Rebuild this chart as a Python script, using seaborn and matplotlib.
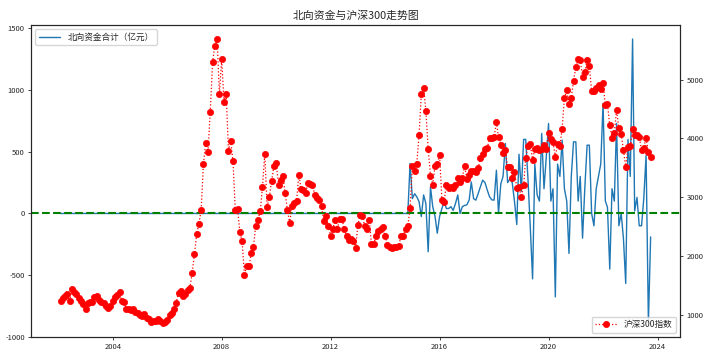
"""
北向资金与沪深300走势图
"""

#Packages:
import seaborn as sns
import matplotlib.pyplot as plt
import matplotlib.dates as mdates
import pandas as pd

#-----------------------------------
#Data (monthly, month end, 2002-01 .. 2023-09):
dates = pd.date_range("2002-01-31", "2023-09-30", freq="ME")

hs300 = [
    1237, 1290, 1330, 1350, 1237, 1435, 1390, 1360, 1295, 1240, 1190, 1108,  # 2002
    1210, 1215, 1230, 1300, 1322, 1254, 1230, 1210, 1160, 1125, 1153, 1237,  # 2003
    1300, 1340, 1390, 1237, 1220, 1108, 1100, 1085, 1108, 1060, 1040, 1000,  # 2004
    980, 1012, 956, 927, 890, 900, 895, 927, 900, 870, 880, 923,  # 2005
    1000, 1040, 1108, 1210, 1380, 1407, 1322, 1350, 1420, 1464, 1718, 2040,  # 2006
    2385, 2550, 2787, 3566, 3922, 3770, 4458, 5295, 5576, 5690, 4752, 5346,  # 2007
    4627, 4760, 3791, 3960, 3610, 2791, 2803, 2407, 2254, 1678, 1842, 1830,  # 2008
    2046, 2153, 2508, 2622, 2763, 3176, 3741, 2837, 3007, 3283, 3525, 3583,  # 2009
    3215, 3300, 3356, 3074, 2780, 2566, 2859, 2904, 2932, 3385, 3142, 3119,  # 2010
    3075, 3244, 3232, 3215, 3046, 2990, 2950, 2848, 2593, 2690, 2508, 2351,  # 2011
    2464, 2622, 2464, 2634, 2634, 2464, 2339, 2283, 2293, 2254, 2142, 2537,  # 2012
    2707, 2690, 2508, 2464, 2622, 2215, 2215, 2339, 2424, 2464, 2500, 2339,  # 2013
    2198, 2158, 2142, 2158, 2158, 2170, 2339, 2350, 2464, 2508, 2820, 3525,  # 2014
    3440, 3571, 4063, 4758, 4855, 4475, 3820, 3368, 3215, 3537, 3571, 3724,  # 2015
    2961, 2915, 3218, 3156, 3169, 3154, 3204, 3327, 3253, 3336, 3538, 3310,  # 2016
    3387, 3452, 3456, 3439, 3493, 3666, 3737, 3822, 3836, 4006, 4006, 4030,  # 2017
    4275, 4023, 3898, 3756, 3802, 3510, 3517, 3334, 3438, 3153, 3173, 3011,  # 2018
    3202, 3670, 3872, 3913, 3630, 3826, 3836, 3799, 3814, 3886, 3828, 4097,  # 2019
    3999, 3941, 3686, 3912, 3868, 4164, 4695, 4816, 4588, 4695, 4981, 5211,  # 2020
    5352, 5336, 5049, 5124, 5331, 5224, 4812, 4806, 4866, 4908, 4833, 4940,  # 2021
    4564, 4582, 4222, 4016, 4091, 4485, 4170, 4079, 3805, 3508, 3854, 3872,  # 2022
    4156, 4064, 4051, 4030, 3798, 3843, 4013, 3765, 3690,  # 2023
]

# no northbound flows before Stock Connect (2002-01 .. 2014-10)
north_before = [0] * 154
north_flow = [
    405, 120,  # 2014
    160, 135, 95, -25, 150, 80, -310, 215, 55, -25, -160, -25,  # 2015
    40, 95, 40, 40, 55, 25, 80, 150, 0, 55, 65, 70,  # 2016
    110, 255, 120, 108, 160, 216, 270, 250, 190, 135, 110, 108,  # 2017
    350, 0, 240, 300, 567, 250, 280, 250, 100, -90, 480, 180,  # 2018
    600, 600, 270, -110, -530, 400, 150, 100, 648, 200, 450, 729,  # 2019
    100, 200, -676, 400, 300, 594, 200, 100, -324, 300, 580, 580,  # 2020
    100, 300, -200, 200, 553, 553, 0, -100, 200, 300, 400, 891,  # 2021
    100, 50, -451, 200, 100, 729, -100, 0, -200, -567, 600, 300,  # 2022
    1413, 20, 130, -100, -100, 120, 470, -885, -190,  # 2023
]

df = pd.DataFrame({"date": dates,
                   "north": north_before + north_flow,
                   "hs300": hs300})

#-----------------------------------
#Plot:
sns.set_style("ticks")
plt.rcParams['font.family'] = ['Noto Sans CJK SC', 'DejaVu Sans']
plt.rcParams['axes.unicode_minus'] = False

fig, ax = plt.subplots(figsize=(7.07, 3.55), dpi=100)
fig.subplots_adjust(left=0.044, right=0.962, top=0.93, bottom=0.051)

sns.lineplot(data=df, x="date", y="north", ax=ax, color="#1f77b4",
             linewidth=1.0, label="北向资金合计（亿元）")
ax.axhline(0, color="green", linestyle="--", linewidth=1.5)

ax2 = ax.twinx()
sns.lineplot(data=df, x="date", y="hs300", ax=ax2, color="red",
             linestyle=":", linewidth=0.9, marker="o", markersize=4.5,
             markeredgecolor="red", markeredgewidth=0.5, label="沪深300指数")

ax.set_title("北向资金与沪深300走势图", fontsize=7.8, pad=4)
ax.set_xlabel("")
ax.set_ylabel("")
ax2.set_ylabel("")

ax.xaxis.set_major_locator(mdates.YearLocator(4))
ax.xaxis.set_major_formatter(mdates.DateFormatter("%Y"))
ax.set_yticks([-1000, -500, 0, 500, 1000, 1500])
ax2.set_yticks([1000, 2000, 3000, 4000, 5000])

for a in (ax, ax2):
    a.tick_params(labelsize=5.5, length=2.5, width=0.6, pad=2)
    for s in a.spines.values():
        s.set_linewidth(0.8)
        s.set_visible(True)

ax.legend(loc="upper left", fontsize=6.2, handlelength=2.5)
ax2.legend(loc="lower right", fontsize=6.2, handlelength=2.5)

plt.savefig("out.png", dpi=100)
